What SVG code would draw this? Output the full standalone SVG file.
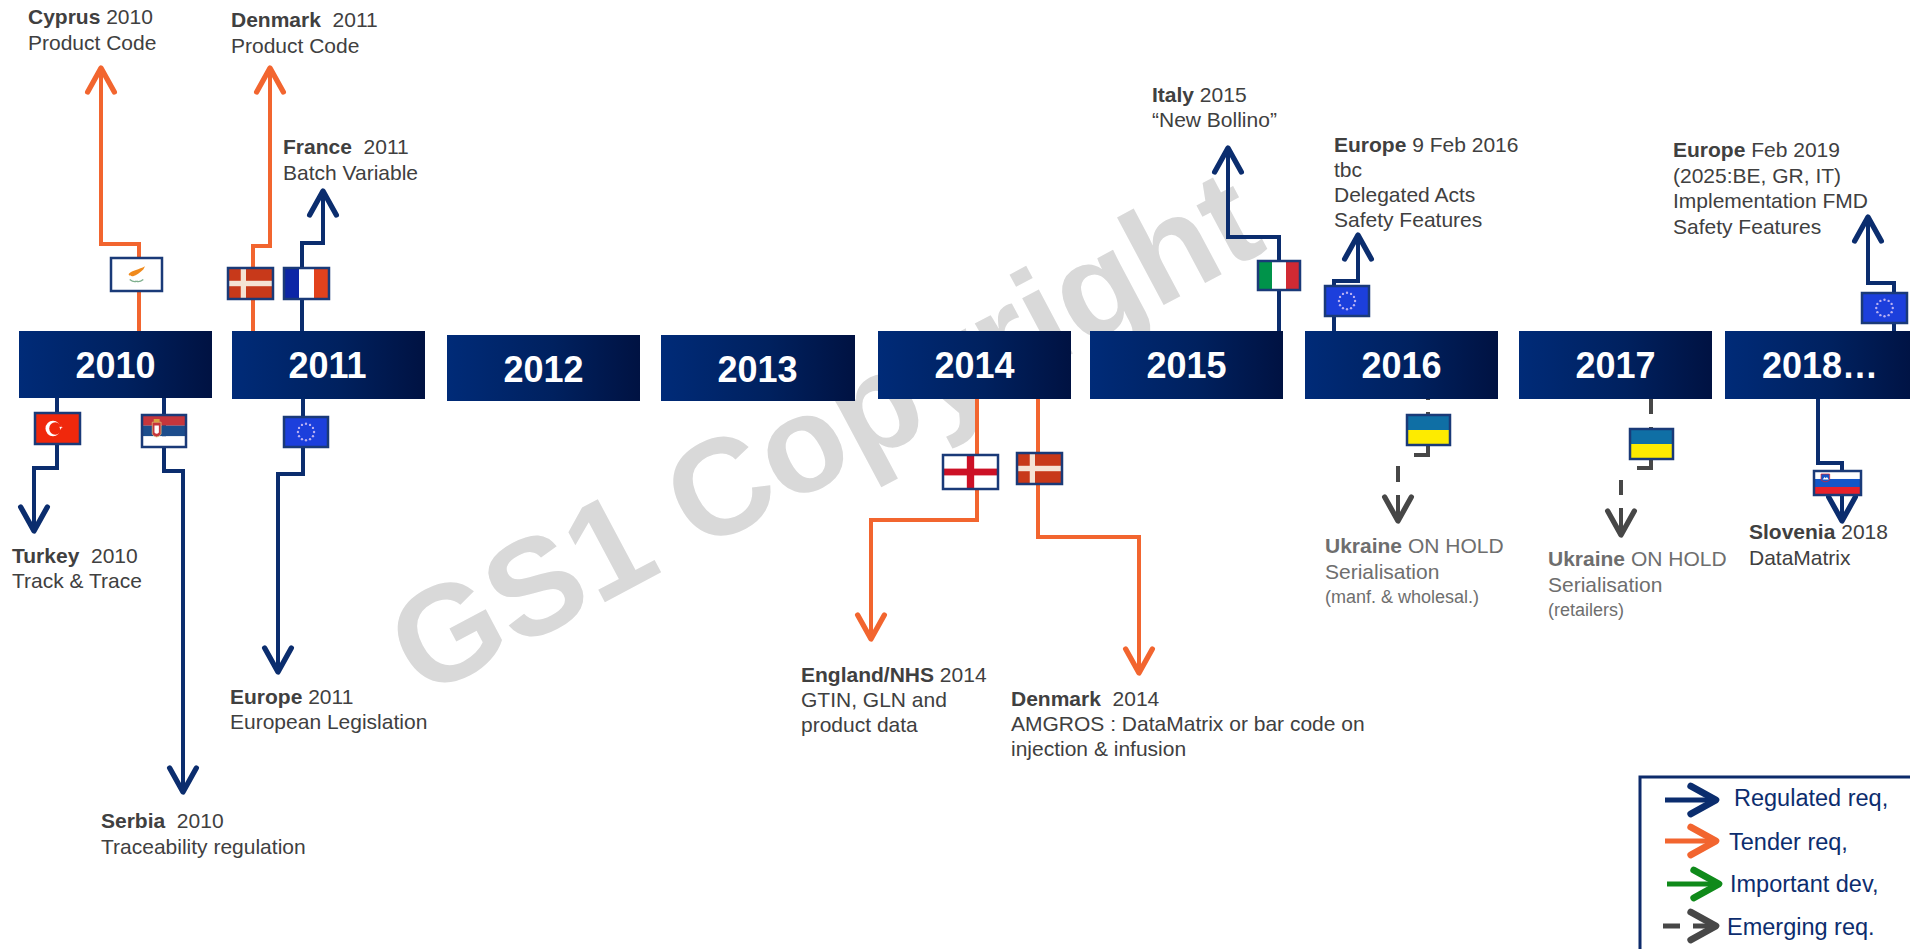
<svg xmlns="http://www.w3.org/2000/svg" xmlns:xlink="http://www.w3.org/1999/xlink" width="1910" height="949" viewBox="0 0 1910 949">
<style>
.t{font-family:"Liberation Sans",Arial,sans-serif;font-size:21px;fill:#404040;white-space:pre}
.b{font-weight:bold}
.u{fill:#6e6e6e}
.s{font-size:18px}
.yr{font-family:"Liberation Sans",Arial,sans-serif;font-weight:bold;font-size:36px;fill:#ffffff;text-anchor:middle}
.lg{font-family:"Liberation Sans",Arial,sans-serif;font-size:23.5px;fill:#0c2d6e}
.box{fill:url(#yg)}
.fb{fill:none;stroke:#1a3a78;stroke-width:2.5}
.nv{fill:none;stroke:#0b2d6e;stroke-width:4;marker-end:url(#ahN)}
.or{fill:none;stroke:#f2652f;stroke-width:4;marker-end:url(#ahO)}
.gy{fill:none;stroke:#474747;stroke-width:4;marker-end:url(#ahG)}
.wm{font-family:"Liberation Sans",Arial,sans-serif;font-weight:bold;font-size:137px;fill:#d9d9d9}
</style>
<defs>
<linearGradient id="yg" x1="0" y1="0" x2="1" y2="0">
<stop offset="0" stop-color="#002b78"/>
<stop offset="0.55" stop-color="#00215f"/>
<stop offset="1" stop-color="#001242"/>
</linearGradient>
<marker id="ahN" markerUnits="userSpaceOnUse" markerWidth="40" markerHeight="40" viewBox="-25 -15 30 30" refX="0" refY="0" orient="auto" overflow="visible"><path d="M-18,-10 L0,0 L-18,10" fill="none" stroke="#0b2d6e" stroke-width="4" stroke-linejoin="round" stroke-linecap="round"/></marker>
<marker id="ahO" markerUnits="userSpaceOnUse" markerWidth="40" markerHeight="40" viewBox="-25 -15 30 30" refX="0" refY="0" orient="auto" overflow="visible"><path d="M-18,-10 L0,0 L-18,10" fill="none" stroke="#f2652f" stroke-width="4" stroke-linejoin="round" stroke-linecap="round"/></marker>
<marker id="ahG" markerUnits="userSpaceOnUse" markerWidth="40" markerHeight="40" viewBox="-25 -15 30 30" refX="0" refY="0" orient="auto" overflow="visible"><path d="M-18,-10 L0,0 L-18,10" fill="none" stroke="#474747" stroke-width="4" stroke-linejoin="round" stroke-linecap="round"/></marker>
<marker id="lgN" markerUnits="userSpaceOnUse" markerWidth="40" markerHeight="40" viewBox="-25 -15 30 30" refX="0" refY="0" orient="auto" overflow="visible"><path d="M-19,-10.5 L0,0 L-19,10.5" fill="none" stroke="#0b2d6e" stroke-width="5" stroke-linejoin="round" stroke-linecap="round"/></marker>
<marker id="lgO" markerUnits="userSpaceOnUse" markerWidth="40" markerHeight="40" viewBox="-25 -15 30 30" refX="0" refY="0" orient="auto" overflow="visible"><path d="M-19,-10.5 L0,0 L-19,10.5" fill="none" stroke="#f2652f" stroke-width="5" stroke-linejoin="round" stroke-linecap="round"/></marker>
<marker id="lgG" markerUnits="userSpaceOnUse" markerWidth="40" markerHeight="40" viewBox="-25 -15 30 30" refX="0" refY="0" orient="auto" overflow="visible"><path d="M-19,-10.5 L0,0 L-19,10.5" fill="none" stroke="#0f8a1a" stroke-width="5" stroke-linejoin="round" stroke-linecap="round"/></marker>
<marker id="lgY" markerUnits="userSpaceOnUse" markerWidth="40" markerHeight="40" viewBox="-25 -15 30 30" refX="0" refY="0" orient="auto" overflow="visible"><path d="M-19,-10.5 L0,0 L-19,10.5" fill="none" stroke="#474747" stroke-width="5" stroke-linejoin="round" stroke-linecap="round"/></marker>

<symbol id="f-eu" viewBox="0 0 60 40" preserveAspectRatio="none">
<rect width="60" height="40" fill="#1c3fdc"/>
<g fill="#b8b0f2">
<circle cx="30" cy="9" r="1.6"/><circle cx="35.5" cy="10.5" r="1.6"/><circle cx="39.5" cy="14.5" r="1.6"/><circle cx="41" cy="20" r="1.6"/><circle cx="39.5" cy="25.5" r="1.6"/><circle cx="35.5" cy="29.5" r="1.6"/><circle cx="30" cy="31" r="1.6"/><circle cx="24.5" cy="29.5" r="1.6"/><circle cx="20.5" cy="25.5" r="1.6"/><circle cx="19" cy="20" r="1.6"/><circle cx="20.5" cy="14.5" r="1.6"/><circle cx="24.5" cy="10.5" r="1.6"/>
</g>
</symbol>
<symbol id="f-dk" viewBox="0 0 60 40" preserveAspectRatio="none">
<rect width="60" height="40" fill="#c8391a"/>
<rect x="17" width="7" height="40" fill="#f5e2d4"/>
<rect y="16.5" width="60" height="7" fill="#f5e2d4"/>
</symbol>
<symbol id="f-fr" viewBox="0 0 60 40" preserveAspectRatio="none">
<rect width="20" height="40" fill="#0c25a6"/>
<rect x="20" width="20" height="40" fill="#ffffff"/>
<rect x="40" width="20" height="40" fill="#e2421d"/>
</symbol>
<symbol id="f-it" viewBox="0 0 60 40" preserveAspectRatio="none">
<rect width="20" height="40" fill="#00934a"/>
<rect x="20" width="20" height="40" fill="#ffffff"/>
<rect x="40" width="20" height="40" fill="#d12a33"/>
</symbol>
<symbol id="f-ua" viewBox="0 0 60 40" preserveAspectRatio="none">
<rect width="60" height="20" fill="#0f6fa5"/>
<rect y="20" width="60" height="20" fill="#fdeb00"/>
</symbol>
<symbol id="f-cy" viewBox="0 0 60 40" preserveAspectRatio="none">
<rect width="60" height="40" fill="#ffffff"/>
<path d="M21 19 C25 15 33 14 40 10 L38 14 C34 18 30 21 26 22 C23 22 20 21 21 19 Z" fill="#f08a1c"/>
<path d="M22 26 Q27 30 30 28 M38 26 Q33 30 30 28" fill="none" stroke="#7fb08e" stroke-width="1.6"/>
</symbol>
<symbol id="f-tr" viewBox="0 0 60 40" preserveAspectRatio="none">
<rect width="60" height="40" fill="#f0280c"/>
<circle cx="24" cy="20" r="10" fill="#ffffff"/>
<circle cx="27" cy="20" r="8" fill="#f0280c"/>
<polygon points="37,20 32.6,21.5 33.3,16.9 35.9,20.9 30.9,18.6" fill="#ffffff" transform="rotate(90 34.5 19.5)"/>
</symbol>
<symbol id="f-rs" viewBox="0 0 60 40" preserveAspectRatio="none">
<rect width="60" height="13.4" fill="#c6363c"/>
<rect y="13.3" width="60" height="13.4" fill="#1c4d8c"/>
<rect y="26.6" width="60" height="13.4" fill="#ffffff"/>
<path d="M14 9 L26 9 L26 24 Q20 31 14 24 Z" fill="#c6363c" stroke="#e0c27a" stroke-width="1"/>
<path d="M17 13 L23 13 L23 22 Q20 25 17 22 Z" fill="#ffffff"/>
<rect x="16" y="5" width="8" height="4" fill="#d9a441"/>
</symbol>
<symbol id="f-en" viewBox="0 0 60 40" preserveAspectRatio="none">
<rect width="60" height="40" fill="#ffffff"/>
<rect x="26" width="8" height="40" fill="#cc1126"/>
<rect y="16" width="60" height="8" fill="#cc1126"/>
</symbol>
<symbol id="f-si" viewBox="0 0 60 40" preserveAspectRatio="none">
<rect width="60" height="13.4" fill="#ffffff"/>
<rect y="13.3" width="60" height="13.4" fill="#1456c8"/>
<rect y="26.6" width="60" height="13.4" fill="#e8202a"/>
<path d="M9 5 L20 5 L20 15 Q14.5 21 9 15 Z" fill="#1456c8" stroke="#e8202a" stroke-width="1"/>
<path d="M11 14 L13.5 10 L15 12 L16.5 10 L19 14 Z" fill="#ffffff"/>
</symbol>
</defs>

<rect width="1910" height="949" fill="#ffffff"/>

<text id="watermark" class="wm" x="846" y="474" text-anchor="middle" transform="rotate(-28 846 474)">GS1 Copyright</text>

<g id="connectors">
<path class="or" d="M139 331 V244 H101 V68"/>
<path class="or" d="M253 331 V246 H270 V68"/>
<path class="nv" d="M302 331 V243 H323 V191"/>
<path class="nv" d="M57 398 V468 H34 V531"/>
<path class="nv" d="M164 398 V471 H183 V792"/>
<path class="nv" d="M303 399 V474 H278 V672"/>
<path class="or" d="M977 399 V520 H871 V639"/>
<path class="or" d="M1038 399 V537 H1139 V673"/>
<path class="nv" d="M1279 331 V237 H1228 V148"/>
<path class="nv" d="M1334 331 V281 H1358 V235"/>
<path class="nv" d="M1894 331 V283 H1868 V217"/>
<path class="nv" d="M1818 399 V463 H1842 V521"/>
<path class="gy" d="M1428 385 V400 M1428 412 V418 M1428 444 V455 H1414 M1398 466 V482 M1398 495 V521"/>
<path class="gy" d="M1651 398 V414 M1651 427 V431 M1651 458 V468 H1637 M1621 480 V495 M1621 508 V535"/>
</g>

<g id="year-2010"><rect class="box" x="19" y="331" width="193" height="67"/><text class="yr" x="115.5" y="378">2010</text></g>
<g id="year-2011"><rect class="box" x="232" y="331" width="193" height="68"/><text class="yr" x="327.5" y="378">2011</text></g>
<g id="year-2012"><rect class="box" x="447" y="335" width="193" height="66"/><text class="yr" x="543.5" y="382">2012</text></g>
<g id="year-2013"><rect class="box" x="661" y="335" width="194" height="66"/><text class="yr" x="757.5" y="382">2013</text></g>
<g id="year-2014"><rect class="box" x="878" y="331" width="193" height="68"/><text class="yr" x="974.5" y="378">2014</text></g>
<g id="year-2015"><rect class="box" x="1090" y="331" width="193" height="68"/><text class="yr" x="1186.5" y="378">2015</text></g>
<g id="year-2016"><rect class="box" x="1305" y="331" width="193" height="68"/><text class="yr" x="1401.5" y="378">2016</text></g>
<g id="year-2017"><rect class="box" x="1519" y="331" width="193" height="68"/><text class="yr" x="1615.5" y="378">2017</text></g>
<g id="year-2018"><rect class="box" x="1725" y="331" width="193" height="68"/><text class="yr" x="1820" y="378">2018…</text></g>

<g id="ev-cyprus">
<use xlink:href="#f-cy" href="#f-cy" x="111" y="258" width="51" height="33"/><rect class="fb" x="111" y="258" width="51" height="33"/>
<text class="t" x="28" y="23.5"><tspan class="b">Cyprus</tspan> 2010</text>
<text class="t" x="28" y="49.5">Product Code</text>
</g>
<g id="ev-denmark-2011">
<use xlink:href="#f-dk" href="#f-dk" x="228" y="268" width="45" height="31"/><rect class="fb" x="228" y="268" width="45" height="31"/>
<text class="t" x="231" y="27"><tspan class="b">Denmark</tspan>  2011</text>
<text class="t" x="231" y="53">Product Code</text>
</g>
<g id="ev-france">
<use xlink:href="#f-fr" href="#f-fr" x="284" y="268" width="45" height="31"/><rect class="fb" x="284" y="268" width="45" height="31"/>
<text class="t" x="283" y="154"><tspan class="b">France</tspan>  2011</text>
<text class="t" x="283" y="180">Batch Variable</text>
</g>
<g id="ev-turkey">
<use xlink:href="#f-tr" href="#f-tr" x="35" y="413" width="45" height="31"/><rect class="fb" x="35" y="413" width="45" height="31"/>
<text class="t" x="12" y="563"><tspan class="b">Turkey</tspan>  2010</text>
<text class="t" x="12" y="588">Track &amp; Trace</text>
</g>
<g id="ev-serbia">
<use xlink:href="#f-rs" href="#f-rs" x="142" y="415" width="44" height="32"/><rect class="fb" x="142" y="415" width="44" height="32"/>
<text class="t" x="101" y="828"><tspan class="b">Serbia</tspan>  2010</text>
<text class="t" x="101" y="854">Traceability regulation</text>
</g>
<g id="ev-europe-2011">
<use xlink:href="#f-eu" href="#f-eu" x="284" y="417" width="44" height="30"/><rect class="fb" x="284" y="417" width="44" height="30"/>
<text class="t" x="230" y="704"><tspan class="b">Europe</tspan> 2011</text>
<text class="t" x="230" y="729">European Legislation</text>
</g>
<g id="ev-england">
<use xlink:href="#f-en" href="#f-en" x="943" y="455" width="55" height="34"/><rect class="fb" x="943" y="455" width="55" height="34"/>
<text class="t" x="801" y="682"><tspan class="b">England/NHS</tspan> 2014</text>
<text class="t" x="801" y="707">GTIN, GLN and</text>
<text class="t" x="801" y="732">product data</text>
</g>
<g id="ev-denmark-2014">
<use xlink:href="#f-dk" href="#f-dk" x="1017" y="453" width="45" height="31"/><rect class="fb" x="1017" y="453" width="45" height="31"/>
<text class="t" x="1011" y="706"><tspan class="b">Denmark</tspan>  2014</text>
<text class="t" x="1011" y="731">AMGROS : DataMatrix or bar code on</text>
<text class="t" x="1011" y="756">injection &amp; infusion</text>
</g>
<g id="ev-italy">
<use xlink:href="#f-it" href="#f-it" x="1258" y="261" width="42" height="29"/><rect class="fb" x="1258" y="261" width="42" height="29"/>
<text class="t" x="1152" y="102"><tspan class="b">Italy</tspan> 2015</text>
<text class="t" x="1152" y="127">“New Bollino”</text>
</g>
<g id="ev-europe-2016">
<use xlink:href="#f-eu" href="#f-eu" x="1325" y="286" width="44" height="30"/><rect class="fb" x="1325" y="286" width="44" height="30"/>
<text class="t" x="1334" y="152"><tspan class="b">Europe</tspan> 9 Feb 2016</text>
<text class="t" x="1334" y="177">tbc</text>
<text class="t" x="1334" y="202">Delegated Acts</text>
<text class="t" x="1334" y="227">Safety Features</text>
</g>
<g id="ev-ukraine-2016">
<use xlink:href="#f-ua" href="#f-ua" x="1407" y="415" width="43" height="30"/><rect class="fb" x="1407" y="415" width="43" height="30"/>
<text class="t u" x="1325" y="553"><tspan class="b">Ukraine</tspan> ON HOLD</text>
<text class="t u" x="1325" y="579">Serialisation</text>
<text class="t u s" x="1325" y="603">(manf. &amp; wholesal.)</text>
</g>
<g id="ev-ukraine-2017">
<use xlink:href="#f-ua" href="#f-ua" x="1630" y="429" width="43" height="30"/><rect class="fb" x="1630" y="429" width="43" height="30"/>
<text class="t u" x="1548" y="566"><tspan class="b">Ukraine</tspan> ON HOLD</text>
<text class="t u" x="1548" y="592">Serialisation</text>
<text class="t u s" x="1548" y="616">(retailers)</text>
</g>
<g id="ev-europe-2019">
<use xlink:href="#f-eu" href="#f-eu" x="1862" y="293" width="45" height="30"/><rect class="fb" x="1862" y="293" width="45" height="30"/>
<text class="t" x="1673" y="157"><tspan class="b">Europe</tspan> Feb 2019</text>
<text class="t" x="1673" y="183">(2025:BE, GR, IT)</text>
<text class="t" x="1673" y="208">Implementation FMD</text>
<text class="t" x="1673" y="234">Safety Features</text>
</g>
<g id="ev-slovenia">
<use xlink:href="#f-si" href="#f-si" x="1814" y="471" width="47" height="24"/><rect class="fb" x="1814" y="471" width="47" height="24"/>
<text class="t" x="1749" y="539"><tspan class="b">Slovenia</tspan> 2018</text>
<text class="t" x="1749" y="565">DataMatrix</text>
</g>

<g id="legend">
<rect x="1640" y="777" width="290" height="200" fill="#ffffff" stroke="#0d2b6b" stroke-width="3"/>
<path d="M1665 800 H1716" fill="none" stroke="#0b2d6e" stroke-width="5" marker-end="url(#lgN)"/>
<text class="lg" x="1734" y="806">Regulated req,</text>
<path d="M1665 841 H1716" fill="none" stroke="#f2652f" stroke-width="5" marker-end="url(#lgO)"/>
<text class="lg" x="1729" y="850">Tender req,</text>
<path d="M1667 884 H1719" fill="none" stroke="#0f8a1a" stroke-width="5" marker-end="url(#lgG)"/>
<text class="lg" x="1730" y="892">Important dev,</text>
<path d="M1663 926 H1680" fill="none" stroke="#474747" stroke-width="5"/>
<path d="M1693 926 H1716" fill="none" stroke="#474747" stroke-width="5" marker-end="url(#lgY)"/>
<text class="lg" x="1727" y="935">Emerging req.</text>
</g>
</svg>
